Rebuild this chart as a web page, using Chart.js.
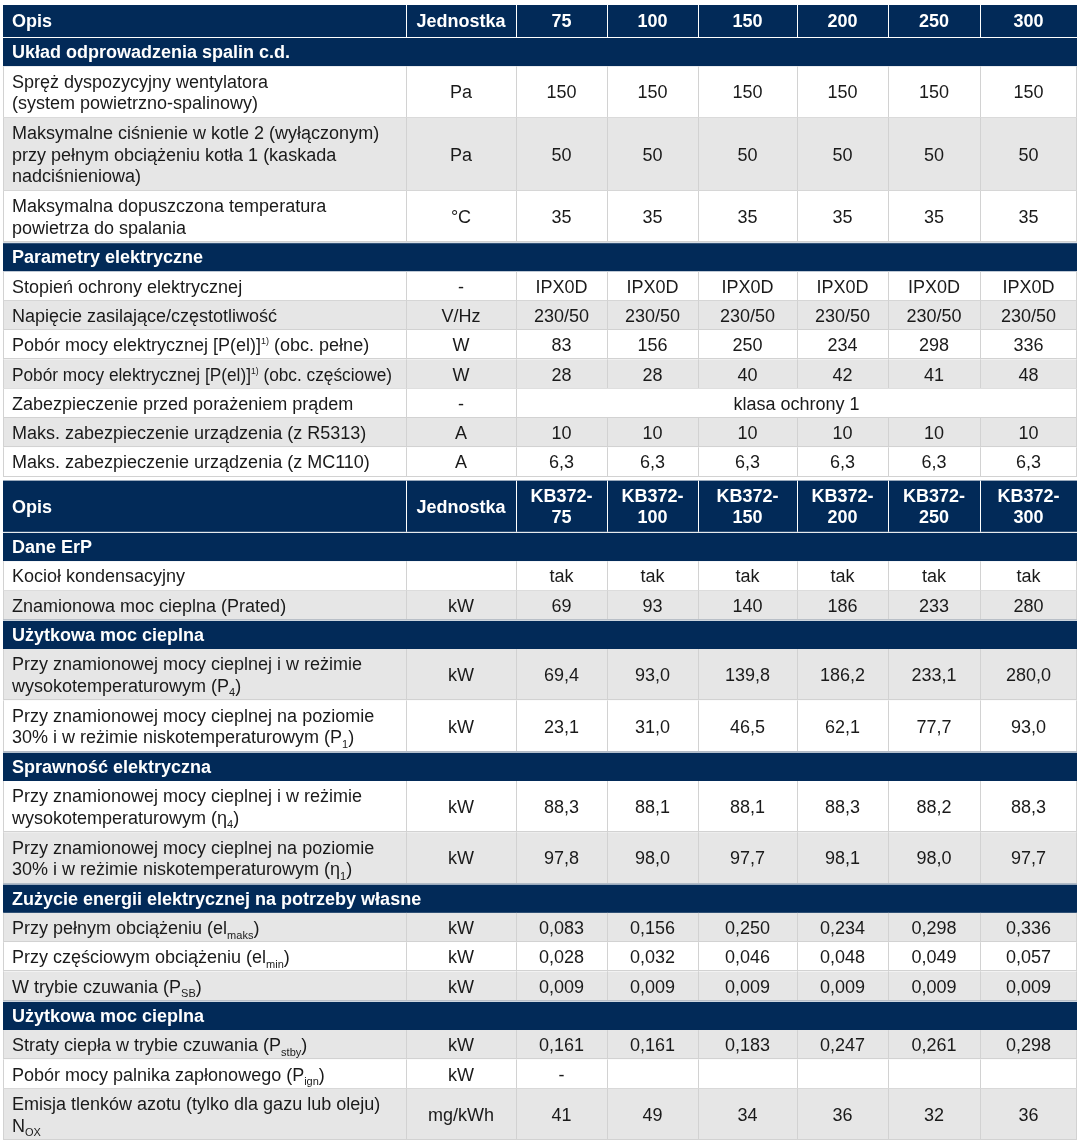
<!DOCTYPE html>
<html lang="pl">
<head>
<meta charset="utf-8">
<title>Dane techniczne KB372</title>
<script src="https://cdn.jsdelivr.net/npm/chart.js@4.4.1/dist/chart.umd.min.js"></script>
<style>
  body { margin: 0; background: #fff; }
  #tableChart { display: block; }
</style>
</head>
<body>
<canvas id="tableChart" width="1078" height="1145"></canvas>
<script>
// ---- dane ----
const headerA = ["Opis", "Jednostka", "75", "100", "150", "200", "250", "300"];
const headerB = ["Opis", "Jednostka", "KB372-\n75", "KB372-\n100", "KB372-\n150", "KB372-\n200", "KB372-\n250", "KB372-\n300"];

const ukladTitle = "Układ odprowadzenia spalin c.d.";
const ukladLabels = [
  "Spręż dyspozycyjny wentylatora\n(system powietrzno-spalinowy)",
  "Maksymalne ciśnienie w kotle 2 (wyłączonym)\nprzy pełnym obciążeniu kotła 1 (kaskada\nnadciśnieniowa)",
  "Maksymalna dopuszczona temperatura\npowietrza do spalania"
];
const ukladUnits = ["Pa", "Pa", "°C"];
const ukladValues = [
  ["150", "150", "150", "150", "150", "150"],
  ["50", "50", "50", "50", "50", "50"],
  ["35", "35", "35", "35", "35", "35"]
];

const elektrTitle = "Parametry elektryczne";
const elektrLabels = [
  "Stopień ochrony elektrycznej",
  "Napięcie zasilające/częstotliwość",
  "Pobór mocy elektrycznej [P(el)]^{1)} (obc. pełne)",
  "Pobór mocy elektrycznej [P(el)]^{1)} (obc. częściowe)",
  "Zabezpieczenie przed porażeniem prądem",
  "Maks. zabezpieczenie urządzenia (z R5313)",
  "Maks. zabezpieczenie urządzenia (z MC110)"
];
const elektrUnits = ["-", "V/Hz", "W", "W", "-", "A", "A"];
const elektrValues = [
  ["IPX0D", "IPX0D", "IPX0D", "IPX0D", "IPX0D", "IPX0D"],
  ["230/50", "230/50", "230/50", "230/50", "230/50", "230/50"],
  ["83", "156", "250", "234", "298", "336"],
  ["28", "28", "40", "42", "41", "48"],
  ["klasa ochrony 1"],
  ["10", "10", "10", "10", "10", "10"],
  ["6,3", "6,3", "6,3", "6,3", "6,3", "6,3"]
];

const erpTitle = "Dane ErP";
const erpLabels = ["Kocioł kondensacyjny", "Znamionowa moc cieplna (Prated)"];
const erpUnits = ["", "kW"];
const erpValues = [
  ["tak", "tak", "tak", "tak", "tak", "tak"],
  ["69", "93", "140", "186", "233", "280"]
];

const mocTitle = "Użytkowa moc cieplna";
const mocLabels = [
  "Przy znamionowej mocy cieplnej i w reżimie\nwysokotemperaturowym (P_{4})",
  "Przy znamionowej mocy cieplnej na poziomie\n30% i w reżimie niskotemperaturowym (P_{1})"
];
const mocUnits = ["kW", "kW"];
const mocValues = [
  ["69,4", "93,0", "139,8", "186,2", "233,1", "280,0"],
  ["23,1", "31,0", "46,5", "62,1", "77,7", "93,0"]
];

const sprawTitle = "Sprawność elektryczna";
const sprawLabels = [
  "Przy znamionowej mocy cieplnej i w reżimie\nwysokotemperaturowym (η_{4})",
  "Przy znamionowej mocy cieplnej na poziomie\n30% i w reżimie niskotemperaturowym (η_{1})"
];
const sprawUnits = ["kW", "kW"];
const sprawValues = [
  ["88,3", "88,1", "88,1", "88,3", "88,2", "88,3"],
  ["97,8", "98,0", "97,7", "98,1", "98,0", "97,7"]
];

const zuzTitle = "Zużycie energii elektrycznej na potrzeby własne";
const zuzLabels = [
  "Przy pełnym obciążeniu (el_{maks})",
  "Przy częściowym obciążeniu (el_{min})",
  "W trybie czuwania (P_{SB})"
];
const zuzUnits = ["kW", "kW", "kW"];
const zuzValues = [
  ["0,083", "0,156", "0,250", "0,234", "0,298", "0,336"],
  ["0,028", "0,032", "0,046", "0,048", "0,049", "0,057"],
  ["0,009", "0,009", "0,009", "0,009", "0,009", "0,009"]
];

const stratyTitle = "Użytkowa moc cieplna";
const stratyLabels = [
  "Straty ciepła w trybie czuwania (P_{stby})",
  "Pobór mocy palnika zapłonowego (P_{ign})",
  "Emisja tlenków azotu (tylko dla gazu lub oleju)\nN_{OX}"
];
const stratyUnits = ["kW", "kW", "mg/kWh"];
const stratyValues = [
  ["0,161", "0,161", "0,183", "0,247", "0,261", "0,298"],
  ["-", "", "", "", "", ""],
  ["41", "49", "34", "36", "32", "36"]
];

// ---- wygląd ----
const W = 1078, H = 1145;
const TABLE_LEFT = 3;
const COL_WIDTHS = [403, 110, 91, 91, 99, 91, 92, 97];
const TOP = 5, GAP = 4;
const LINE_H = 22, PAD = 7.3, HEAD_H = 32;
const NAVY = "#022a58", GREY = "#e6e6e6", RULE = "#d2d2d2";
const FONT = "'Liberation Sans', Arial, Helvetica, sans-serif";
const SIZE = 18;
const LABEL_MAX = 380; // dłuższe opisy są ściskane w poziomie

// cieniowanie wierszy (1 = szary)
const ukladShade = [0, 1, 0];
const elektrShade = [0, 1, 0, 1, 0, 1, 0];
const erpShade = [0, 1];
const mocShade = [1, 0];
const sprawShade = [0, 1];
const zuzShade = [1, 0, 1];
const stratyShade = [1, 0, 1];

function lines(t) { return t.split("\n").length; }

function section(rows, title, labels, units, values, shade) {
  rows.push({ kind: "section", cells: [title], h: PAD + LINE_H });
  labels.forEach((lab, i) => {
    rows.push({
      kind: "data",
      cells: [lab, units[i]].concat(values[i]),
      shade: shade[i],
      h: PAD + LINE_H * lines(lab)
    });
  });
}

const rows = [];
rows.push({ kind: "header", cells: headerA, h: HEAD_H });
section(rows, ukladTitle, ukladLabels, ukladUnits, ukladValues, ukladShade);
section(rows, elektrTitle, elektrLabels, elektrUnits, elektrValues, elektrShade);
rows.push({ kind: "gap", h: GAP });
rows.push({ kind: "header", cells: headerB, h: PAD + LINE_H * 2 });
section(rows, erpTitle, erpLabels, erpUnits, erpValues, erpShade);
section(rows, mocTitle, mocLabels, mocUnits, mocValues, mocShade);
section(rows, sprawTitle, sprawLabels, sprawUnits, sprawValues, sprawShade);
section(rows, zuzTitle, zuzLabels, zuzUnits, zuzValues, zuzShade);
section(rows, stratyTitle, stratyLabels, stratyUnits, stratyValues, stratyShade);

const colEdges = [TABLE_LEFT];
COL_WIDTHS.forEach(w => colEdges.push(colEdges[colEdges.length - 1] + w));

// tekst z indeksami dolnymi _{..} i górnymi ^{..}
function parseRich(text) {
  return text.split(/(_\{[^}]*\}|\^\{[^}]*\})/).filter(s => s !== "").map(s => {
    if (s.startsWith("_{")) return { t: s.slice(2, -1), k: "sub" };
    if (s.startsWith("^{")) return { t: s.slice(2, -1), k: "sup" };
    return { t: s, k: "n" };
  });
}

function drawRich(ctx, text, x, y, align, bold, maxW) {
  const parts = parseRich(text);
  let total = 0;
  parts.forEach(p => {
    const sz = p.k === "n" ? SIZE : p.k === "sub" ? 11 : 9;
    p.font = (bold ? "bold " : "") + sz + "px " + FONT;
    p.dy = p.k === "sub" ? 4.5 : p.k === "sup" ? -7 : 0;
    ctx.font = p.font;
    p.w = ctx.measureText(p.t).width;
    total += p.w;
  });
  const sx = maxW && total > maxW ? maxW / total : 1;
  let cx = align === "center" ? x - (total * sx) / 2 : x;
  const base = y + SIZE * 0.36;
  ctx.textAlign = "left";
  ctx.textBaseline = "alphabetic";
  parts.forEach(p => {
    ctx.font = p.font;
    ctx.save();
    ctx.translate(cx, base + p.dy);
    ctx.scale(sx, 1);
    ctx.fillText(p.t, 0, 0);
    ctx.restore();
    cx += p.w * sx;
  });
}

function drawBlock(ctx, text, x, yMid, align, bold, maxW) {
  const ls = text.split("\n");
  ls.forEach((l, i) => {
    drawRich(ctx, l, x, yMid + (i - (ls.length - 1) / 2) * 21.5, align, bold, maxW);
  });
}

const tablePlugin = {
  id: "specTable",
  afterDraw(chart) {
    const ctx = chart.ctx;
    const xs = chart.scales.x, ys = chart.scales.y;
    const px = colEdges.map(v => xs.getPixelForValue(v));
    const left = px[0], right = px[px.length - 1];
    let acc = TOP;
    ctx.save();
    rows.forEach(r => {
      const y0 = ys.getPixelForValue(acc);
      const y1 = ys.getPixelForValue(acc + r.h);
      acc += r.h;
      if (r.kind === "gap") return;
      const mid = (y0 + y1) / 2;
      if (r.kind === "header" || r.kind === "section") {
        ctx.fillStyle = NAVY;
        ctx.fillRect(left, y0, right - left, y1 - y0);
        ctx.fillStyle = "#fff";
        if (r.kind === "section") {
          ctx.fillRect(left, y0, right - left, 1);
          drawBlock(ctx, r.cells[0], left + 9, mid, "left", true);
        } else {
          for (let i = 1; i < px.length - 1; i++) ctx.fillRect(Math.round(px[i]), y0, 1, y1 - y0);
          drawBlock(ctx, r.cells[0], left + 9, mid, "left", true);
          for (let c = 1; c < r.cells.length; c++) {
            drawBlock(ctx, r.cells[c], (px[c] + px[c + 1]) / 2, mid, "center", true);
          }
        }
        return;
      }
      ctx.fillStyle = r.shade ? GREY : "#fff";
      ctx.fillRect(left, y0, right - left, y1 - y0);
      ctx.fillStyle = RULE;
      ctx.fillRect(left, Math.round(y1) - 1, right - left, 1);
      const spanAll = r.cells.length === 3;
      const edges = spanAll ? [0, 1, 2, px.length - 1] : px.map((_, i) => i);
      edges.forEach(i => ctx.fillRect(Math.round(px[i]) - (i === px.length - 1 ? 1 : 0), y0, 1, y1 - y0));
      ctx.fillStyle = "#1a1a1a";
      drawBlock(ctx, r.cells[0], left + 9, mid, "left", false, LABEL_MAX);
      drawBlock(ctx, r.cells[1], (px[1] + px[2]) / 2, mid, "center", false);
      if (spanAll) {
        drawBlock(ctx, r.cells[2], (px[2] + px[px.length - 1]) / 2, mid, "center", false);
      } else {
        for (let c = 2; c < r.cells.length; c++) {
          drawBlock(ctx, r.cells[c], (px[c] + px[c + 1]) / 2, mid, "center", false);
        }
      }
    });
    ctx.restore();
  }
};

Chart.defaults.font.family = FONT;

new Chart(document.getElementById("tableChart").getContext("2d"), {
  type: "scatter",
  data: { datasets: [] },
  options: {
    responsive: false,
    animation: false,
    layout: { padding: 0 },
    plugins: { legend: { display: false }, tooltip: { enabled: false } },
    scales: {
      x: { type: "linear", display: false, min: 0, max: W },
      y: { type: "linear", display: false, min: 0, max: H, reverse: true }
    }
  },
  plugins: [tablePlugin]
});
</script>
</body>
</html>
